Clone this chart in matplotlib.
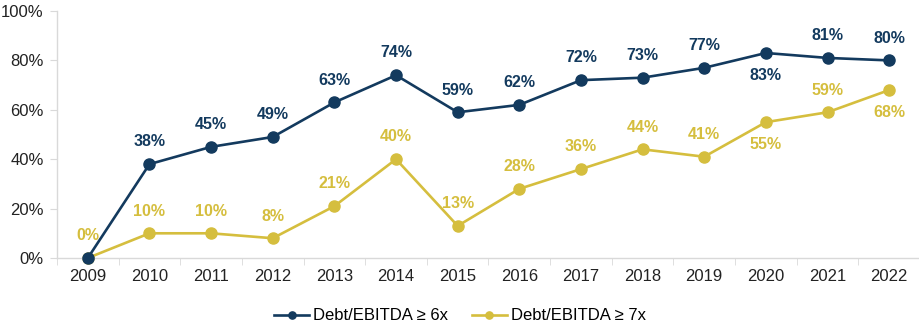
import matplotlib
matplotlib.use("Agg")
import matplotlib.pyplot as plt
from matplotlib.ticker import FixedLocator, PercentFormatter

plt.rcParams['font.family'] = ['Liberation Sans', 'DejaVu Sans']

years = ["2009", "2010", "2011", "2012", "2013", "2014", "2015", "2016",
         "2017", "2018", "2019", "2020", "2021", "2022"]
debt6x = [0, 38, 45, 49, 63, 74, 59, 62, 72, 73, 77, 83, 81, 80]
debt7x = [0, 10, 10, 8, 21, 40, 13, 28, 36, 44, 41, 55, 59, 68]
label6 = [None, "38%", "45%", "49%", "63%", "74%", "59%", "62%", "72%", "73%", "77%", "83%", "81%", "80%"]
label7 = ["0%", "10%", "10%", "8%", "21%", "40%", "13%", "28%", "36%", "44%", "41%", "55%", "59%", "68%"]
below6 = [False]*11 + [True, False, False]
below7 = [False]*11 + [True, False, True]

navy = "#133A5E"
gold = "#D5BE3E"

fig = plt.figure(figsize=(9.2, 3.27), dpi=100)
ax = fig.add_axes([57/920, 69/327, 1 - 57/920, (258-11)/327])

x = list(range(len(years)))
ax.plot(x, debt6x, color=navy, lw=1.9, marker='o', ms=8, label="Debt/EBITDA \u2265 6x", zorder=3)
ax.plot(x, debt7x, color=gold, lw=1.9, marker='o', ms=8, label="Debt/EBITDA \u2265 7x", zorder=2)

for xi, v, t, b in zip(x, debt6x, label6, below6):
    if t is None:
        continue
    ax.annotate(t, (xi, v), xytext=(0, -16 if b else 16), textcoords='offset points',
                ha='center', va='center', color=navy, fontsize=11.5, fontweight='bold')
for xi, v, t, b in zip(x, debt7x, label7, below7):
    ax.annotate(t, (xi, v), xytext=(0, -16 if b else 16), textcoords='offset points',
                ha='center', va='center', color=gold, fontsize=11.5, fontweight='bold')

ax.set_xlim(-0.5, len(years) - 0.5)
ax.set_ylim(0, 100)
ax.set_xticks(x)
ax.set_xticklabels(years)
ax.xaxis.set_minor_locator(FixedLocator([i - 0.5 for i in range(len(years) + 1)]))
ax.tick_params(axis='x', which='major', length=0, pad=8, labelsize=12, colors='#222222')
ax.tick_params(axis='x', which='minor', length=5, color='#D9D9D9')
ax.set_yticks([0, 20, 40, 60, 80, 100])
ax.yaxis.set_major_formatter(PercentFormatter(decimals=0))
ax.tick_params(axis='y', length=5, color='#D9D9D9', pad=4.5, labelsize=12, labelcolor='#222222')

for s in ['top', 'right']:
    ax.spines[s].set_visible(False)
for s in ['left', 'bottom']:
    ax.spines[s].set_color('#D9D9D9')
    ax.spines[s].set_linewidth(1)
for line in ax.lines:
    line.set_clip_on(False)

fig.legend(loc='lower center', bbox_to_anchor=(0.5, -0.035), ncol=2, frameon=False,
           fontsize=12, handlelength=2.1, columnspacing=1.4, handletextpad=0.25, markerscale=0.65)

fig.savefig("out.png", dpi=100)
